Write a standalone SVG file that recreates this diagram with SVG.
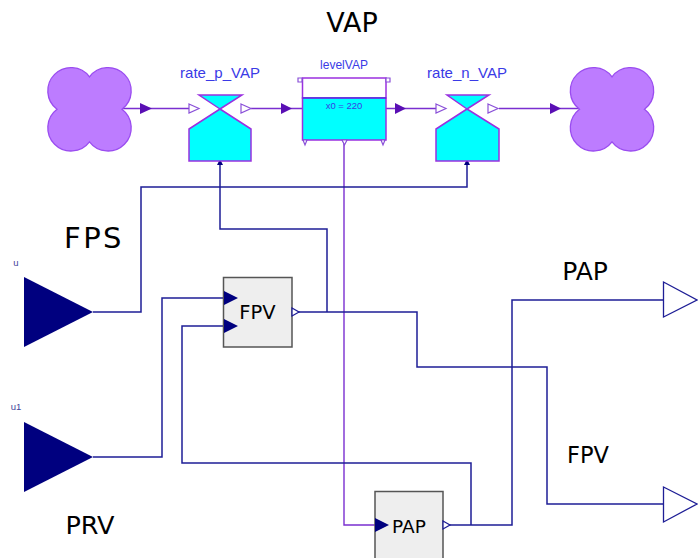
<svg xmlns="http://www.w3.org/2000/svg" width="698" height="558" viewBox="0 0 698 558">
<style>
.p{fill:none;stroke:#7a2fd0;stroke-width:1.4}
.b{fill:none;stroke:#1e1e96;stroke-width:1.5}
.pf{fill:#5a0fb4;stroke:none}
.bf{fill:#00007f;stroke:none}
.open{fill:#fff;stroke:#8a50d8;stroke-width:1.2}
.cloud{fill:#bd7cff;stroke:#9a4cf0;stroke-width:1.3}
.cy{fill:#00ffff;stroke:#9a30e0;stroke-width:1.5}
.box{fill:#eeeeee;stroke:#555;stroke-width:1.5}
.out{fill:#fff;stroke:#1e1e96;stroke-width:1.3}
.t{font-family:"DejaVu Sans",sans-serif;fill:#000}
.l{font-family:"Liberation Sans",sans-serif;fill:#3a3ae6}
</style>
<g id="connectors">
<path class="p" d="M122 108.500H189M251 108.500H302M386 108.500H436M499 108.500H581M344 140V525H375"/>
<path class="pf" d="M140 103L152 108.500L140 114ZM281 103L292 108.500L281 114ZM395 103L406 108.500L395 114ZM550 103L561 108.500L550 114Z"/>
<path class="b" d="M93 312H141V187H467V162M293 312H417V367H547V504H663M327 312V229H220V162M93 457H162V298H224M224 326H182V463H471V525M443 525H512V300H663"/>
<path class="bf" d="M217 165L220 159L223 165ZM464 165L467 159L470 165Z"/>
</g>
<g id="cloud_left">
<path class="cloud" d="M89.500 76.800A23.200 23.200 0 1 1 122 109.300A23.200 23.200 0 1 1 89.500 141.800A23.200 23.200 0 1 1 57 109.300A23.200 23.200 0 1 1 89.500 76.800Z"/>
</g>
<g id="rate_p_VAP">
<path class="cy" d="M220 109L199 95H242ZM220 109L251 129V161H189V129Z"/>
<path class="open" d="M189 104L199 108.500L189 113ZM241 104L251 108.500L241 113Z"/>
<text class="l" x="220" y="78" font-size="15" text-anchor="middle">rate_p_VAP</text>
</g>
<g id="levelVAP">
<rect x="302.500" y="78" width="83.500" height="20" fill="#fff" stroke="#9a30e0" stroke-width="1.500"/>
<rect class="cy" x="302.500" y="98" width="83.500" height="42"/>
<path d="M302.500 98H386" stroke="#3030e0" stroke-width="1"/>
<path class="open" d="M298 78H302V82H298ZM386 78H390V82H386ZM303 140H307L305 145ZM342 140H347L344.500 145ZM381 140H385L383 145Z"/>
<text class="l" x="344" y="69" font-size="12" text-anchor="middle">levelVAP</text>
<text class="l" x="344" y="109" font-size="9.500" text-anchor="middle">x0 = 220</text>
</g>
<g id="rate_n_VAP">
<path class="cy" d="M467 109L447 95H489ZM467 109L499 129V161H436V129Z"/>
<path class="open" d="M436 104L446 108.500L436 113ZM488 104L498 108.500L488 113Z"/>
<text class="l" x="467" y="78" font-size="15" text-anchor="middle">rate_n_VAP</text>
</g>
<g id="cloud_right">
<path class="cloud" d="M612 76.800A23.200 23.200 0 1 1 644.500 109.300A23.200 23.200 0 1 1 612 141.800A23.200 23.200 0 1 1 579.500 109.300A23.200 23.200 0 1 1 612 76.800Z"/>
</g>
<g id="u">
<path class="bf" d="M24 277L93 312L24 347Z"/>
<text class="l" x="16" y="266" font-size="9.500" text-anchor="middle" style="fill:#44449a">u</text>
</g>
<g id="u1">
<path class="bf" d="M24 422L93 457L24 492Z"/>
<text class="l" x="16" y="410" font-size="9.500" text-anchor="middle" style="fill:#44449a">u1</text>
</g>
<g id="FPV">
<rect class="box" x="223.500" y="277.500" width="68.500" height="69.500"/>
<path class="bf" d="M224 291L238 298L224 305ZM224 319L238 326L224 333Z"/>
<path class="out" d="M292 308L299 312L292 316Z" stroke-width="1"/>
<text class="t" x="257.500" y="319" font-size="19.500" text-anchor="middle">FPV</text>
</g>
<g id="PAP">
<rect class="box" x="375" y="491.500" width="68" height="70"/>
<path class="bf" d="M375 518L389 525L375 532Z"/>
<path class="out" d="M443 521L450 525L443 529Z" stroke-width="1"/>
<text class="t" x="409" y="533" font-size="18.500" text-anchor="middle">PAP</text>
</g>
<g id="out_PAP">
<path class="out" d="M663.500 282L697 300L663.500 317Z"/>
</g>
<g id="out_FPV">
<path class="out" d="M663.500 487L697 504L663.500 522Z"/>
</g>
<text class="t" x="352" y="32" font-size="27" text-anchor="middle">VAP</text>
<text class="t" x="94" y="248" font-size="29" text-anchor="middle" letter-spacing="2.500">FPS</text>
<text class="t" x="90" y="534" font-size="25.500" text-anchor="middle">PRV</text>
<text class="t" x="585" y="280" font-size="25" text-anchor="middle">PAP</text>
<text class="t" x="588" y="463" font-size="22.500" text-anchor="middle">FPV</text>
</svg>
